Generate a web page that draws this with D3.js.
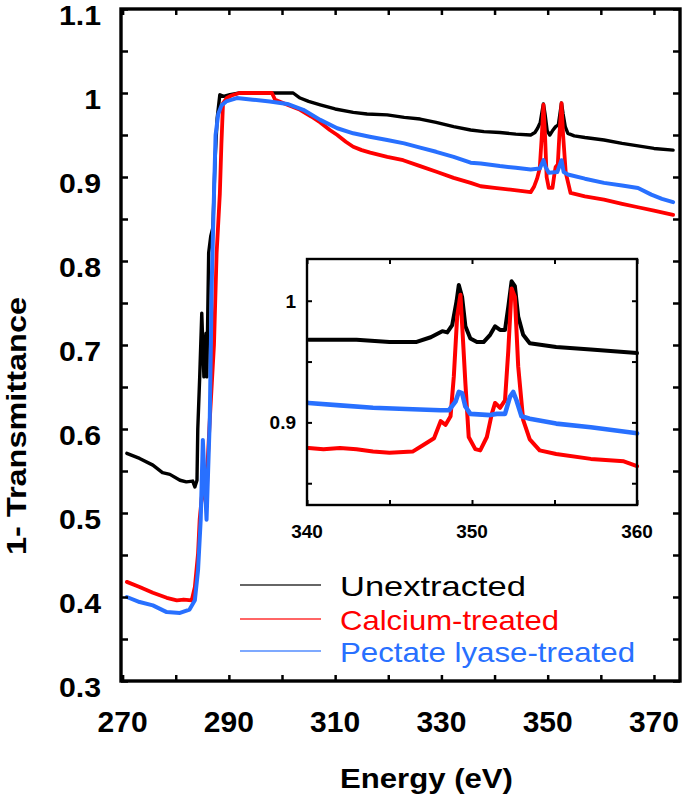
<!DOCTYPE html>
<html>
<head>
<meta charset="utf-8">
<script src="https://cdn.jsdelivr.net/npm/d3@7"></script>
<style>
  html, body { margin: 0; padding: 0; background: #fff; }
  svg { display: block; }
  text { font-family: "Liberation Sans", Arial, sans-serif; }
</style>
</head>
<body>
<svg id="chart" width="685" height="794"></svg>
<script>
// ---------- data ----------
const seriesNames = ["Unextracted", "Calcium-treated", "Pectate lyase-treated"];
const seriesColors = ["#000000", "#ff0000", "#2870ff"];

const unextracted = [[270.8,0.571],[273.2,0.565],[275.7,0.557],[277.5,0.548],[278.9,0.546],[280.8,0.539],[282,0.537],[283.2,0.538],[283.6,0.531],[284.0,0.539],[284.15,0.60],[284.5,0.66],[284.9,0.738],[285.3,0.662],[285.7,0.714],[285.85,0.662],[286.2,0.81],[286.6,0.83],[287.0,0.84],[287.4,0.92],[287.8,0.97],[288.3,0.998],[289,0.996],[290.2,0.998],[292,1.0],[296,1.0],[300,1.0],[302.1,1.0],[303.4,0.994],[305,0.99],[307.2,0.986],[310,0.981],[313.4,0.977],[316,0.975],[319.8,0.974],[323,0.971],[326,0.969],[329,0.965],[332.3,0.96],[335.5,0.956],[338,0.954],[341,0.953],[344,0.951],[346.8,0.95],[347.6,0.953],[348.1,0.958],[348.6,0.965],[349.0,0.98],[349.2,0.987],[349.5,0.975],[349.9,0.955],[350.4,0.95],[350.9,0.955],[351.5,0.96],[352.0,0.962],[352.3,0.975],[352.6,0.988],[352.9,0.975],[353.3,0.96],[353.8,0.952],[355,0.949],[357,0.947],[360.6,0.944],[364,0.94],[367,0.937],[370,0.934],[373.6,0.932]];

const calciumTreated = [[270.8,0.418],[273.2,0.412],[275.7,0.405],[278.3,0.399],[280.2,0.396],[281.5,0.397],[283,0.396],[283.6,0.412],[284.2,0.452],[284.5,0.492],[284.9,0.519],[285.3,0.53],[285.8,0.507],[286.0,0.56],[286.4,0.61],[286.8,0.655],[287.2,0.70],[287.7,0.81],[288.3,0.88],[288.6,0.94],[288.9,0.988],[289.6,0.994],[290.5,0.997],[292,1.0],[295,1.0],[298.1,1.0],[298.7,0.992],[301,0.986],[303.4,0.98],[305.5,0.972],[307.2,0.965],[309,0.956],[310.4,0.95],[312,0.942],[313.4,0.936],[315,0.932],[316.6,0.929],[319.8,0.924],[322.8,0.92],[326,0.913],[329.2,0.906],[332.3,0.899],[335.5,0.893],[337.4,0.889],[340,0.887],[343,0.885],[346.8,0.882],[347.4,0.888],[348.0,0.898],[348.5,0.91],[348.9,0.95],[349.2,0.986],[349.5,0.95],[349.8,0.9],[350.2,0.887],[350.9,0.887],[351.3,0.905],[351.5,0.912],[351.9,0.915],[352.2,0.95],[352.6,0.988],[352.9,0.95],[353.4,0.905],[354.3,0.881],[357,0.877],[360.6,0.873],[364,0.868],[367,0.864],[370,0.86],[373.6,0.855]];

const pectateLyaseTreated = [[270.8,0.40],[273.2,0.394],[275.7,0.39],[278.3,0.382],[280.8,0.381],[282.6,0.385],[283.6,0.396],[284.2,0.432],[284.7,0.492],[285.1,0.587],[285.5,0.531],[285.8,0.492],[286.0,0.531],[286.4,0.61],[286.8,0.78],[287.2,0.88],[287.5,0.95],[288.0,0.975],[288.6,0.985],[289.5,0.99],[291.5,0.994],[294.5,0.992],[297.7,0.99],[301,0.987],[304,0.98],[307.2,0.968],[310.4,0.958],[313.4,0.952],[316.5,0.948],[319.8,0.944],[323,0.94],[326,0.935],[329,0.93],[332.3,0.924],[335.5,0.917],[337.4,0.916],[341,0.913],[344,0.911],[346.8,0.909],[348.5,0.91],[349.2,0.92],[349.6,0.912],[350.2,0.905],[351.8,0.906],[352.6,0.92],[353.0,0.906],[353.8,0.903],[357,0.898],[360.6,0.893],[364,0.89],[367,0.887],[369.5,0.879],[371.5,0.874],[373.6,0.87]];

// inset (zoomed 340-360 eV)
const insetUnextracted = [[340.1,0.968],[343,0.968],[345,0.966],[346.6,0.966],[347.5,0.970],[348.2,0.975],[348.5,0.974],[348.8,0.980],[349.07,1.0],[349.2,1.013],[349.4,1.003],[349.6,0.979],[349.9,0.969],[350.3,0.966],[350.7,0.966],[351.1,0.972],[351.4,0.979],[351.7,0.976],[352.0,0.976],[352.2,0.995],[352.4,1.016],[352.6,1.012],[352.8,0.987],[353.1,0.972],[353.5,0.965],[355.1,0.962],[357.2,0.960],[360,0.957]];
const insetCalciumTreated = [[340.1,0.879],[341,0.878],[342,0.879],[343,0.878],[344,0.876],[345,0.875],[346.4,0.876],[347,0.881],[347.7,0.887],[348.1,0.901],[348.4,0.898],[348.7,0.905],[348.9,0.938],[349.1,0.987],[349.3,1.005],[349.4,0.981],[349.6,0.932],[349.8,0.888],[350.2,0.878],[350.5,0.877],[350.9,0.888],[351.2,0.907],[351.4,0.916],[351.7,0.912],[352.0,0.918],[352.2,0.959],[352.4,1.010],[352.6,1.003],[352.8,0.946],[353.1,0.902],[353.5,0.886],[354.1,0.877],[355.1,0.874],[357.2,0.870],[359.2,0.868],[360,0.864]];
const insetPectateLyaseTreated = [[340.1,0.916],[342,0.914],[344,0.912],[346,0.911],[348.1,0.910],[348.6,0.910],[349.0,0.917],[349.2,0.925],[349.4,0.924],[349.6,0.913],[349.9,0.907],[351.1,0.906],[351.5,0.907],[352.0,0.907],[352.3,0.921],[352.5,0.925],[352.7,0.918],[353.0,0.905],[353.5,0.903],[355.1,0.899],[357.2,0.896],[360,0.891]];

const xTickValues = [270,280,290,300,310,320,330,340,350,360,370];
const xTickLabels = ["270","290","310","330","350","370"];
const yTickValues = [0.3,0.35,0.4,0.45,0.5,0.55,0.6,0.65,0.7,0.75,0.8,0.85,0.9,0.95,1.0,1.05,1.1];
const yTickLabels = ["0.3","0.4","0.5","0.6","0.7","0.8","0.9","1","1.1"];
const insetXTickValues = [340,345,350,355,360];
const insetXTickLabels = ["340","350","360"];
const insetYTickValues = [0.85,0.9,0.95,1.0];
const insetYTickLabels = ["0.9","1"];

// ---------- drawing ----------
const svg = d3.select("#chart");

const M = { left: 121, right: 680, top: 9, bottom: 681 };
const x = d3.scaleLinear().domain([269.7, 374.9]).range([M.left, M.right]);
const y = d3.scaleLinear().domain([0.3, 1.1]).range([M.bottom, M.top]);

const mainSeries = [unextracted, calciumTreated, pectateLyaseTreated];
const line = d3.line().x(d => x(d[0])).y(d => y(d[1]));
const mainWidths = [3.4, 3.8, 4.0];

const mainG = svg.append("g");
mainSeries.forEach((s, i) => {
  mainG.append("path").datum(s)
    .attr("d", line)
    .attr("fill", "none")
    .attr("stroke", seriesColors[i])
    .attr("stroke-width", mainWidths[i])
    .attr("stroke-linejoin", "round")
    .attr("stroke-linecap", "round");
});

function styleAxis(g, w) {
  g.select(".domain").remove();
  g.selectAll(".tick line").attr("stroke", "#000").attr("stroke-width", w);
  g.selectAll(".tick text").remove();
}
svg.append("g").attr("transform", `translate(0,${M.bottom})`)
  .call(d3.axisBottom(x).tickValues(xTickValues).tickSize(-6).tickFormat(""))
  .call(g => styleAxis(g, 2.5));
svg.append("g").attr("transform", `translate(0,${M.top})`)
  .call(d3.axisTop(x).tickValues(xTickValues).tickSize(-6).tickFormat(""))
  .call(g => styleAxis(g, 2.5));
svg.append("g").attr("transform", `translate(${M.left},0)`)
  .call(d3.axisLeft(y).tickValues(yTickValues).tickSize(-7).tickFormat(""))
  .call(g => styleAxis(g, 2.5));
svg.append("g").attr("transform", `translate(${M.right},0)`)
  .call(d3.axisRight(y).tickValues(yTickValues).tickSize(-7).tickFormat(""))
  .call(g => styleAxis(g, 2.5));

svg.append("rect")
  .attr("x", M.left).attr("y", M.top)
  .attr("width", M.right - M.left).attr("height", M.bottom - M.top)
  .attr("fill", "none").attr("stroke", "#000").attr("stroke-width", 3.4);

svg.append("g").selectAll("text").data(xTickLabels).join("text")
  .attr("x", d => x(+d)).attr("y", 732)
  .attr("text-anchor", "middle")
  .attr("font-size", 30).attr("font-weight", "bold")
  .text(d => d);
svg.append("g").selectAll("text").data(yTickLabels).join("text")
  .attr("x", 101).attr("y", d => y(+d) + 16)
  .attr("text-anchor", "end")
  .attr("font-size", 28).attr("font-weight", "bold")
  .attr("transform", "translate(101,0) scale(1.08,1) translate(-101,0)")
  .text(d => d);

svg.append("text")
  .attr("transform", "translate(25.5,426) rotate(-90)")
  .attr("text-anchor", "middle")
  .attr("font-size", 28).attr("font-weight", "bold")
  .attr("textLength", 258).attr("lengthAdjust", "spacingAndGlyphs")
  .text("1- Transmittance");
svg.append("text")
  .attr("x", 426.5).attr("y", 788)
  .attr("text-anchor", "middle")
  .attr("font-size", 28).attr("font-weight", "bold")
  .attr("textLength", 173).attr("lengthAdjust", "spacingAndGlyphs")
  .text("Energy (eV)");

// ---------- inset ----------
const I = { left: 307, right: 637, top: 259, bottom: 505 };
const xi = d3.scaleLinear().domain([340, 360]).range([I.left, I.right]);
const yi = d3.scaleLinear().domain([0.8321, 1.0343]).range([I.bottom, I.top]);
const insetSeries = [insetUnextracted, insetCalciumTreated, insetPectateLyaseTreated];
const lineI = d3.line().x(d => xi(d[0])).y(d => yi(d[1]));

svg.append("rect")
  .attr("x", I.left).attr("y", I.top)
  .attr("width", I.right - I.left).attr("height", I.bottom - I.top)
  .attr("fill", "#fff");

const insetG = svg.append("g");
insetSeries.forEach((s, i) => {
  insetG.append("path").datum(s)
    .attr("d", lineI)
    .attr("fill", "none")
    .attr("stroke", seriesColors[i])
    .attr("stroke-width", i === 2 ? 4.6 : 4.0)
    .attr("stroke-linejoin", "round")
    .attr("stroke-linecap", "round");
});

svg.append("g").attr("transform", `translate(0,${I.bottom})`)
  .call(d3.axisBottom(xi).tickValues(insetXTickValues).tickSize(-5).tickFormat(""))
  .call(g => styleAxis(g, 2));
svg.append("g").attr("transform", `translate(0,${I.top})`)
  .call(d3.axisTop(xi).tickValues(insetXTickValues).tickSize(-5).tickFormat(""))
  .call(g => styleAxis(g, 2));
svg.append("g").attr("transform", `translate(${I.left},0)`)
  .call(d3.axisLeft(yi).tickValues(insetYTickValues).tickSize(-5).tickFormat(""))
  .call(g => styleAxis(g, 2));
svg.append("g").attr("transform", `translate(${I.right},0)`)
  .call(d3.axisRight(yi).tickValues(insetYTickValues).tickSize(-5).tickFormat(""))
  .call(g => styleAxis(g, 2));

svg.append("rect")
  .attr("x", I.left).attr("y", I.top)
  .attr("width", I.right - I.left).attr("height", I.bottom - I.top)
  .attr("fill", "none").attr("stroke", "#000").attr("stroke-width", 2.4);

svg.append("g").selectAll("text").data(insetXTickLabels).join("text")
  .attr("x", d => xi(+d)).attr("y", 538)
  .attr("text-anchor", "middle")
  .attr("font-size", 19).attr("font-weight", "bold")
  .text(d => d);
svg.append("g").selectAll("text").data(insetYTickLabels).join("text")
  .attr("x", 296).attr("y", d => yi(+d) + 7)
  .attr("text-anchor", "end")
  .attr("font-size", 19).attr("font-weight", "bold")
  .text(d => d);

// ---------- legend ----------
const legendY = [585, 619, 651];
const legendTextLen = [186, 219, 295];
const leg = svg.append("g");
seriesNames.forEach((name, i) => {
  leg.append("line")
    .attr("x1", 240).attr("x2", 321)
    .attr("y1", legendY[i]).attr("y2", legendY[i])
    .attr("stroke", seriesColors[i]).attr("stroke-width", 1.4)
    .attr("stroke-opacity", 0.8);
  leg.append("text")
    .attr("x", 340).attr("y", legendY[i] + 10.5)
    .attr("font-size", 28)
    .attr("fill", seriesColors[i])
    .attr("textLength", legendTextLen[i]).attr("lengthAdjust", "spacingAndGlyphs")
    .text(name);
});
</script>
</body>
</html>
